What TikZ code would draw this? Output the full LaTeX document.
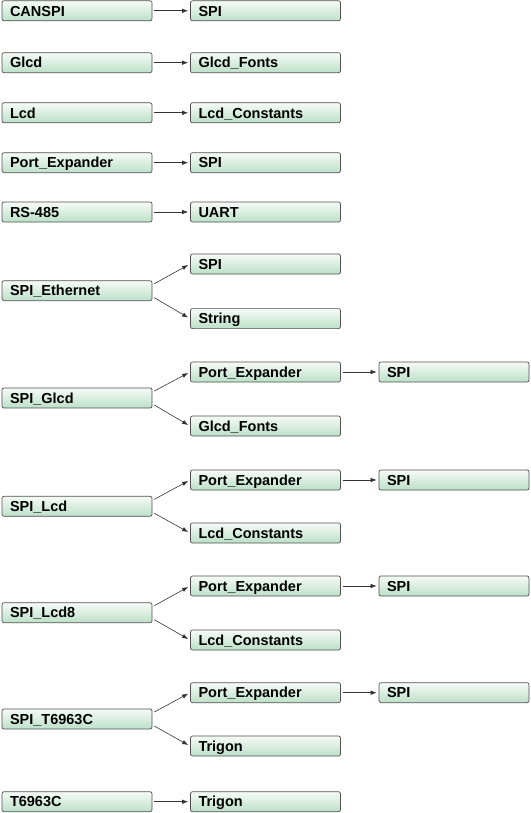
\documentclass[tikz,border=0pt]{standalone}
\usepackage{fontspec}
\setmainfont{Liberation Sans}
\usetikzlibrary{arrows.meta}
\definecolor{libtop}{RGB}{246,251,247}
\definecolor{libbottom}{RGB}{188,224,200}
\definecolor{libedge}{RGB}{80,80,80}

\begin{document}
\begin{tikzpicture}[x=1pt, y=-1pt,
    lib/.style={draw=libedge, line width=0.7pt, rounded corners=2pt,
      top color=libtop, bottom color=libbottom,
      minimum width=150pt, minimum height=20pt, inner xsep=8pt, inner ysep=0pt,
      text width=134pt, align=left, text height=10.5pt, text depth=0pt,
      font=\bfseries\fontsize{14.5}{17}\selectfont},
    dep/.style={-{Latex[length=6pt,width=4.5pt]}, draw=black!80, line width=0.6pt}]
      \useasboundingbox (0,0) rectangle (530,813);
      % Single dependencies
      \node[lib] (can) at (77,10.8) {CANSPI};
      \node[lib] (canspi) at (265.5,10.8) {SPI};
      \node[lib] (glcd) at (77,62.7) {Glcd};
      \node[lib] (glcdfonts) at (265.5,62.7) {Glcd\_Fonts};
      \node[lib] (lcd) at (77,112.8) {Lcd};
      \node[lib] (lcdconst) at (265.5,112.8) {Lcd\_Constants};
      \node[lib] (pexp) at (77,162.7) {Port\_Expander};
      \node[lib] (pexpspi) at (265.5,162.7) {SPI};
      \node[lib] (rs) at (77,212) {RS-485};
      \node[lib] (rsuart) at (265.5,212) {UART};
      \draw[dep] ([xshift=2pt]can.east) -- ([xshift=-2pt]canspi.west);
      \draw[dep] ([xshift=2pt]glcd.east) -- ([xshift=-2pt]glcdfonts.west);
      \draw[dep] ([xshift=2pt]lcd.east) -- ([xshift=-2pt]lcdconst.west);
      \draw[dep] ([xshift=2pt]pexp.east) -- ([xshift=-2pt]pexpspi.west);
      \draw[dep] ([xshift=2pt]rs.east) -- ([xshift=-2pt]rsuart.west);
      % SPI_Ethernet
      \node[lib] (eth) at (77,290.7) {SPI\_Ethernet};
      \node[lib] (ethspi) at (265.5,264) {SPI};
      \node[lib] (ethstr) at (265.5,318.6) {String};
      \draw[dep] ([xshift=2pt,yshift=7pt]eth.east) -- ([xshift=-2pt,yshift=-1pt]ethspi.west);
      \draw[dep] ([xshift=2pt,yshift=-7pt]eth.east) -- ([xshift=-2pt,yshift=1pt]ethstr.west);
      % SPI_Glcd
      \node[lib] (sglcd) at (77,398) {SPI\_Glcd};
      \node[lib] (sglcdpe) at (265.5,372) {Port\_Expander};
      \node[lib] (sglcdspi) at (454,372) {SPI};
      \node[lib] (sglcdfonts) at (265.5,426) {Glcd\_Fonts};
      \draw[dep] ([xshift=2pt,yshift=7pt]sglcd.east) -- ([xshift=-2pt,yshift=-1pt]sglcdpe.west);
      \draw[dep] ([xshift=2pt,yshift=-7pt]sglcd.east) -- ([xshift=-2pt,yshift=1pt]sglcdfonts.west);
      \draw[dep] ([xshift=2pt]sglcdpe.east) -- ([xshift=-2pt]sglcdspi.west);
      % SPI_Lcd
      \node[lib] (slcd) at (77,506.3) {SPI\_Lcd};
      \node[lib] (slcdpe) at (265.5,480) {Port\_Expander};
      \node[lib] (slcdspi) at (454,480) {SPI};
      \node[lib] (slcdconst) at (265.5,533) {Lcd\_Constants};
      \draw[dep] ([xshift=2pt,yshift=7pt]slcd.east) -- ([xshift=-2pt,yshift=-1pt]slcdpe.west);
      \draw[dep] ([xshift=2pt,yshift=-7pt]slcd.east) -- ([xshift=-2pt,yshift=1pt]slcdconst.west);
      \draw[dep] ([xshift=2pt]slcdpe.east) -- ([xshift=-2pt]slcdspi.west);
      % SPI_Lcd8
      \node[lib] (slcde) at (77,612.7) {SPI\_Lcd8};
      \node[lib] (slcdepe) at (265.5,586) {Port\_Expander};
      \node[lib] (slcdespi) at (454,586) {SPI};
      \node[lib] (slcdeconst) at (265.5,640) {Lcd\_Constants};
      \draw[dep] ([xshift=2pt,yshift=7pt]slcde.east) -- ([xshift=-2pt,yshift=-1pt]slcdepe.west);
      \draw[dep] ([xshift=2pt,yshift=-7pt]slcde.east) -- ([xshift=-2pt,yshift=1pt]slcdeconst.west);
      \draw[dep] ([xshift=2pt]slcdepe.east) -- ([xshift=-2pt]slcdespi.west);
      % SPI_T6963C
      \node[lib] (st) at (77,719) {SPI\_T6963C};
      \node[lib] (stpe) at (265.5,692.7) {Port\_Expander};
      \node[lib] (stspi) at (454,692.7) {SPI};
      \node[lib] (sttrig) at (265.5,746) {Trigon};
      \draw[dep] ([xshift=2pt,yshift=7pt]st.east) -- ([xshift=-2pt,yshift=-1pt]stpe.west);
      \draw[dep] ([xshift=2pt,yshift=-7pt]st.east) -- ([xshift=-2pt,yshift=1pt]sttrig.west);
      \draw[dep] ([xshift=2pt]stpe.east) -- ([xshift=-2pt]stspi.west);
      % T6963C
      \node[lib] (t) at (77,801.7) {T6963C};
      \node[lib] (ttrig) at (265.5,801.7) {Trigon};
      \draw[dep] ([xshift=2pt]t.east) -- ([xshift=-2pt]ttrig.west);
    \end{tikzpicture}
\end{document}
